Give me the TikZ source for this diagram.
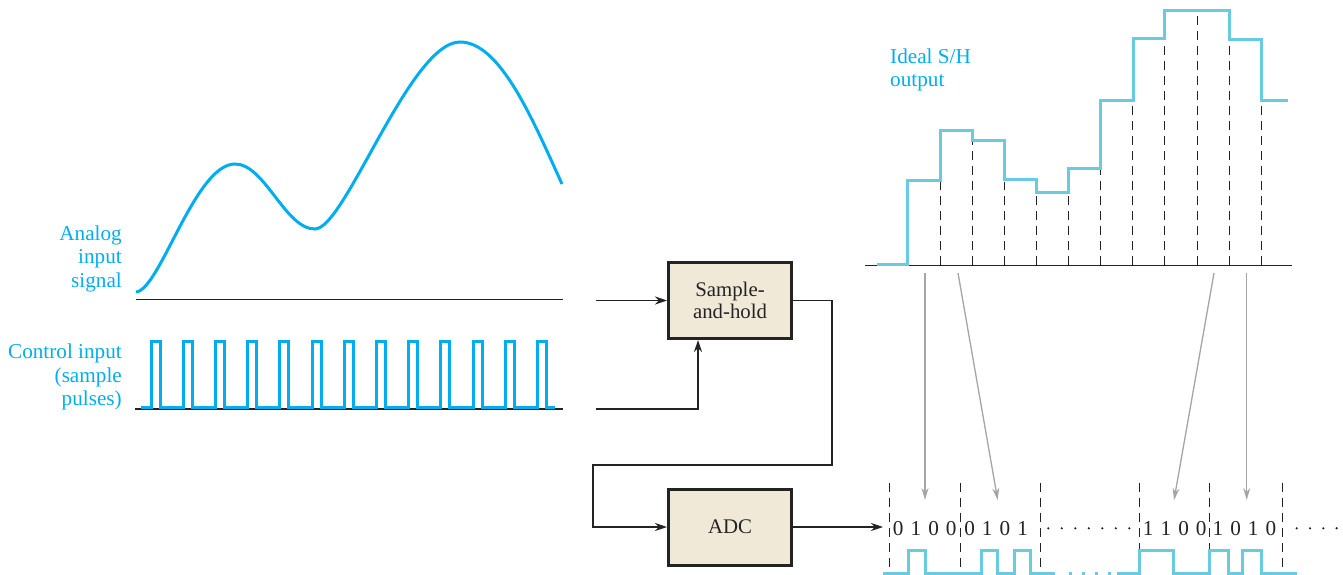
\documentclass[tikz,border=0pt]{standalone}
\usepackage{fontspec}
\setmainfont{Liberation Serif}
\usetikzlibrary{arrows.meta,calc}
\definecolor{cyanA}{RGB}{0,174,239}
\definecolor{cyanB}{RGB}{105,203,225}
\definecolor{boxfill}{RGB}{241,233,216}
\definecolor{ink}{RGB}{35,35,35}
\definecolor{grayarrow}{RGB}{165,165,165}
\begin{document}
\begin{tikzpicture}[x=1pt,y=-1pt,
  every node/.style={font=\fontsize{21.2}{23.5}\selectfont},
  lbl/.style={text=cyanA, inner sep=0pt},
  blk/.style={draw=ink, line width=3pt, fill=boxfill, minimum width=123pt, minimum height=76pt,
    align=center, text=ink, inner sep=0pt, font=\fontsize{20.8}{21.7}\selectfont},
  wire/.style={draw=ink, line width=1.4pt},
  arr/.style={wire, -{Stealth[length=12pt,width=8pt]}},
  sig/.style={cyanA, line width=3pt},
  dig/.style={cyanB, line width=3pt},
  grid/.style={ink, line width=1.4pt, dash pattern=on 9pt off 6pt},
  probe/.style={grayarrow, line width=1.3pt, -{Stealth[length=12pt,width=7pt]}},
  bit/.style={text=ink, inner sep=0pt, anchor=base}
]
\useasboundingbox (0,0) rectangle (1343,575);

% analog input
\draw[wire] (136,299.3) -- (563,299.3);
\draw[sig] (136,292) .. controls (160,290) and (195,164) .. (235,164)
  .. controls (265,164) and (285,229) .. (315,229)
  .. controls (345,229) and (410,42) .. (460,42)
  .. controls (500,42) and (532,118) .. (562,184);
\node[lbl, align=right, anchor=base east] (analog) at (122,287) {Analog\\input\\signal};

% control pulses
\draw[wire] (135,409) -- (563,409);
\draw[sig, line join=miter] (140.7,407.5)
  \foreach \i in {0,...,12}{ -- ({151+32.2*\i},407.5) -- ({151+32.2*\i},341) -- ({160+32.2*\i},341) -- ({160+32.2*\i},407.5)}
  -- (555,407.5);
\node[lbl, align=right, anchor=base east] (ctrl) at (122,405.5) {Control input\\(sample\\pulses)};

% blocks
\node[blk] (sh) at (730,300.5) {Sample-\\and-hold};
\node[blk] (adc) at (730,527) {ADC};

\coordinate (ain) at (596,300.5);
\coordinate (cin) at (596,409);
\coordinate (r1) at (832,465);
\coordinate (l1) at (593,465);
\coordinate (aout) at (883,527);
\draw[arr] (ain) -- (sh.west);
\draw[arr] (cin) -| ([xshift=-32pt]sh.south);
\draw[arr] (sh.east) -| (r1) -- (l1) |- (adc.west);
\draw[arr] (adc.east) -- (aout);

% ideal S/H output
\draw[wire] (865,265.7) -- (1291.7,265.7);
\foreach \x/\t in {940.5/180, 972.5/140.3, 1004.5/179.7, 1036.5/192.7, 1068.5/192.7, 1100.5/168.3,
  1132.5/101, 1164.5/39, 1197.5/10.3, 1229.5/39.3, 1261.5/101}
  \draw[grid] (\x,265) -- (\x,\t+2);
\draw[dig, line join=miter] (876.7,264) -- (907.7,264) -- (907.7,180) -- (940,180) -- (940,131)
  -- (972.3,131) -- (972.3,140.3) -- (1004.7,140.3) -- (1004.7,179.7) -- (1036.7,179.7)
  -- (1036.7,192.7) -- (1068.7,192.7) -- (1068.7,168.3) -- (1100.7,168.3) -- (1100.7,101)
  -- (1133,101) -- (1133,39) -- (1164.7,39) -- (1164.7,10.3) -- (1229.3,10.3) -- (1229.3,39.3)
  -- (1261.7,39.3) -- (1261.7,101) -- (1288.3,101);
\node[lbl, align=left, anchor=base west] (ideal) at (890,87) {Ideal S/H\\output};

% probes
\coordinate (p1s) at (925,273);    \coordinate (p1e) at (925,500);
\coordinate (p2s) at (958,273);    \coordinate (p2e) at (997.7,500);
\coordinate (p3s) at (1214,273);   \coordinate (p3e) at (1174,500);
\coordinate (p4s) at (1246.7,273); \coordinate (p4e) at (1246.7,500);
\draw[probe] (p1s) -- (p1e);
\draw[probe] (p2s) -- (p2e);
\draw[probe] (p3s) -- (p3e);
\draw[probe] (p4s) -- (p4e);

% digital output
\foreach \x in {889.5, 960.5, 1040.5, 1139.5, 1209.5, 1282.5}
  \draw[grid] (\x,482.7) -- (\x,575);
\foreach \s/\a/\b/\c/\d [count=\g] in {889.3/0/1/0/0, 960.7/0/1/0/1, 1139.3/1/1/0/0, 1209/1/0/1/0}{
  \node[bit] (g\g a) at ({\s+8.85},535) {\a};
  \node[bit] (g\g b) at ({\s+8.85+17.7},535) {\b};
  \node[bit] (g\g c) at ({\s+8.85+35.4},535) {\c};
  \node[bit] (g\g d) at ({\s+8.85+53.1},535) {\d};
}
\foreach \i in {0,...,6} \fill[ink] ({1048.3+13.5*\i},528.3) circle (1.2pt);
\foreach \i in {0,...,3} \fill[ink] ({1296.7+13.3*\i},528.3) circle (1.2pt);

\draw[dig, line join=miter] (883.3,573.3) -- (908.3,573.3) -- (908.3,550.7) -- (925,550.7) -- (925,573.3)
  -- (981.7,573.3) -- (981.7,550.7) -- (997.3,550.7) -- (997.3,573.3) -- (1014,573.3) -- (1014,550.7)
  -- (1030.7,550.7) -- (1030.7,573.3) -- (1055,573.3);
\draw[dig, dash pattern=on 3pt off 10.3pt] (1068.5,573.3) -- (1112,573.3);
\draw[dig, line join=miter] (1116.7,573.3) -- (1139.3,573.3) -- (1139.3,550.7) -- (1173.3,550.7) -- (1173.3,573.3)
  -- (1209,573.3) -- (1209,550.7) -- (1228.3,550.7) -- (1228.3,573.3) -- (1242.3,573.3) -- (1242.3,550.7)
  -- (1261,550.7) -- (1261,573.3) -- (1296.7,573.3);
\end{tikzpicture}
\end{document}
